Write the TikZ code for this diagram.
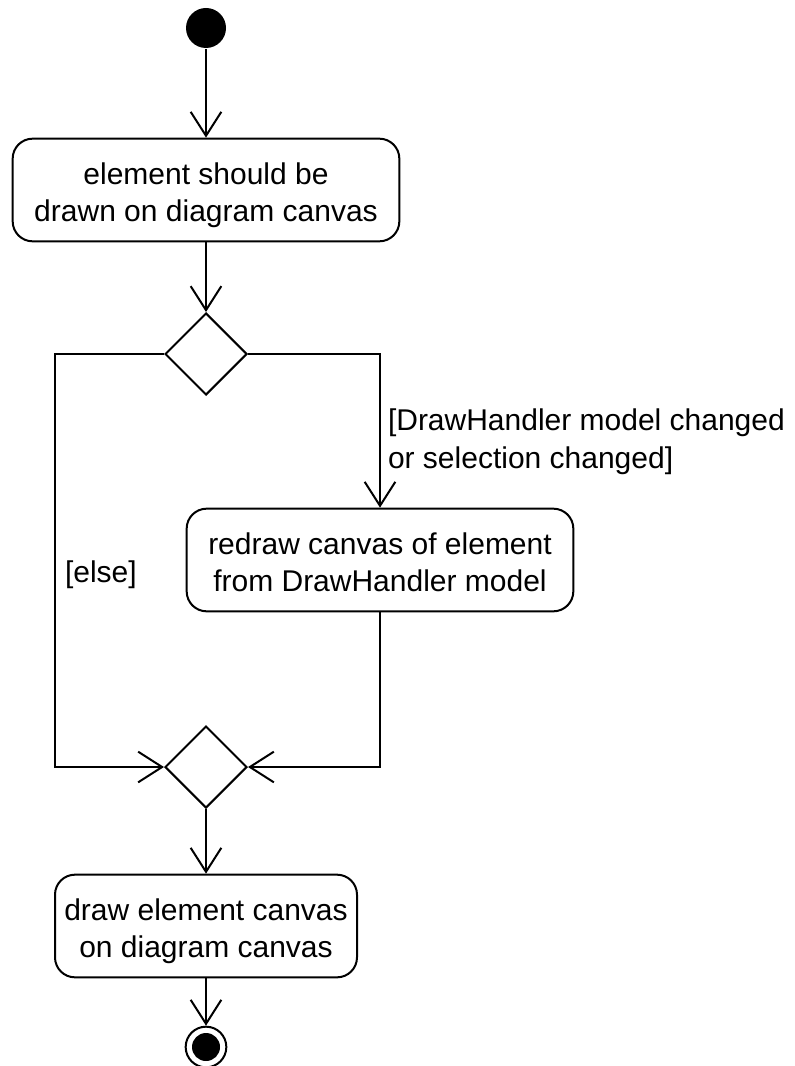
\documentclass[tikz,border=0pt]{standalone}
\usepackage{fontspec}
\setmainfont{Liberation Sans}
\usetikzlibrary{shapes.geometric, arrows.meta}

\begin{document}
\begin{tikzpicture}[
  x=0.75pt, y=-0.75pt, line width=1.5pt,
  flow/.style={-{Straight Barb[length=18pt,width=23pt,line width=1.5pt]}},
  action/.style={draw, rounded corners=15pt, minimum height=77pt, inner sep=0pt,
    align=center, text height=48pt, text depth=0.5pt,
    font=\fontsize{22.5}{28}\selectfont},
  branch/.style={draw, diamond, minimum width=61.5pt, minimum height=61.5pt, inner sep=0pt},
  guard/.style={align=left, inner sep=0pt, font=\fontsize{22.5}{28}\selectfont},
]
  \useasboundingbox (0,0) rectangle (795,1066);

  % start and end
  \node[circle, fill, minimum size=30pt, inner sep=0pt] (start) at (206,28) {};
  \node[circle, draw, minimum size=30.5pt, inner sep=0pt] (stop) at (206,1047) {};
  \node[circle, fill, minimum size=21pt, inner sep=0pt] (stopdot) at (stop) {};

  % actions
  \node[action, minimum width=290pt] (act1) at (206,190) {element should be\\drawn on diagram canvas};
  \node[action, minimum width=290pt] (act2) at (380,560) {redraw canvas of element\\from DrawHandler model};
  \node[action, minimum width=226.5pt] (act3) at (206,926) {draw element canvas\\on diagram canvas};

  % decision and merge
  \node[branch] (dec) at (206,354) {};
  \node[branch] (merge) at (206,767) {};
  \coordinate (lft) at (55,560);

  \draw[flow] (start) -- (act1.north);
  \draw[flow] (act1.south) -- (dec.north);
  \draw[flow] (dec.east) -| (act2.north);
  \draw[flow] (dec.west) -| (lft) |- (merge.west);
  \draw[flow] (act2.south) |- (merge.east);
  \draw[flow] (merge.south) -- (act3.north);
  \draw[flow] (act3.south) -- (stop.north);

  % guards
  \node[guard, anchor=base west] (gchg) at (387,468) {[DrawHandler model changed\\or selection changed]};
  \node[guard, anchor=base west] (gelse) at (64,582) {[else]};
\end{tikzpicture}
\end{document}
